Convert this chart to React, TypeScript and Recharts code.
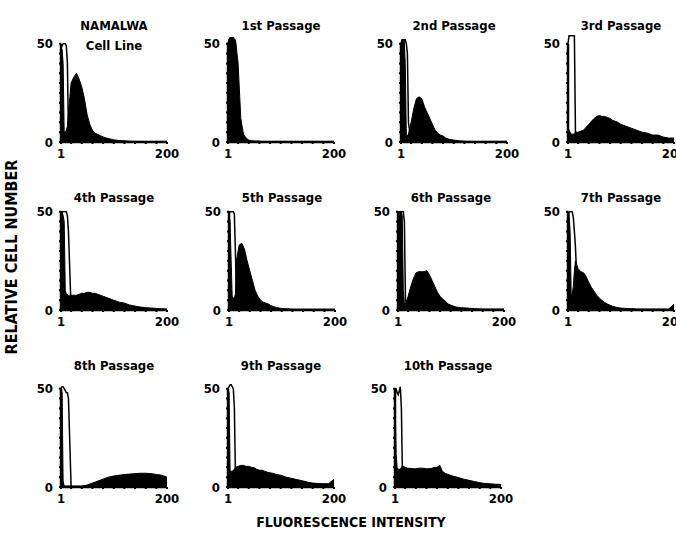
import { Area, ComposedChart, Line, ReferenceLine, XAxis, YAxis } from "recharts";

// fluorescence channels (x positions of the histogram bins)
const channels = [1, 3, 5, 7, 9, 11, 13, 15, 20, 25, 30, 35, 40, 45, 50, 55, 60, 65, 70, 75, 80, 85, 90, 95, 100, 110, 120, 130, 140, 150, 160, 170, 180, 190, 200];

// stained cells (filled histograms)
const namalwa = [48, 47, 40, 5, 5, 6, 8, 15, 30, 33, 35, 32, 28, 22, 14, 9, 6, 4.5, 3.8, 3.2, 2.6, 2.1, 1.8, 1.4, 1.1, 0.8, 0.6, 0.4, 0.3, 0.3, 0.3, 0.3, 0.3, 0.3, 0.3];
const passage1 = [50, 52, 53, 53, 53, 53, 52, 52, 40, 12, 4, 2, 1, 0.6, 0.5, 0.5, 0.4, 0.3, 0.3, 0.3, 0.3, 0.3, 0.3, 0.3, 0.3, 0.3, 0.3, 0.3, 0.3, 0.3, 0.3, 0.3, 0.3, 0.3, 0.3];
const passage2 = [50, 52, 52, 52, 40, 4, 3, 4, 10, 17, 22, 23, 22, 18, 15, 12, 9, 6, 4.5, 3.5, 3, 2, 1.5, 1.2, 1, 0.6, 0.4, 0.3, 0.3, 0.3, 0.3, 0.3, 0.3, 0.3, 0.3];
const passage3 = [7, 6, 5, 4, 4, 4, 4, 5, 5, 5.5, 6, 7.5, 9, 10.5, 12, 13, 13.5, 13, 13, 12.5, 12, 11, 10.5, 10, 9, 8, 7, 6, 5, 4.5, 3.5, 3.5, 2.5, 2, 2];
const passage4 = [50, 50, 48, 45, 10, 8, 8, 7, 7.5, 7.5, 7.5, 8, 8.5, 8.5, 9, 9, 8.5, 8.5, 8, 7.5, 7, 6.5, 6, 5.5, 5, 4, 3.5, 2.5, 2, 1.5, 1.2, 1, 0.8, 0.6, 0.5];
const passage5 = [48, 45, 25, 7, 6, 6, 8, 25, 33, 34, 31, 25, 20, 15, 10, 7, 5, 4, 3.5, 3, 2.2, 1.7, 1.3, 1, 0.8, 0.6, 0.4, 0.4, 0.4, 0.4, 0.4, 0.4, 0.4, 0.4, 0.4];
const passage6 = [50, 50, 50, 50, 48, 10, 3, 3, 7, 12, 16, 19, 19.5, 19.5, 19.5, 20, 18, 15, 12, 9, 7, 5.5, 4.5, 3, 2.5, 1.5, 1.2, 1, 0.8, 0.6, 0.5, 0.5, 0.5, 0.5, 0.5];
const passage7 = [50, 49, 40, 8, 8, 12, 20, 25, 21, 19.5, 19, 17, 14, 11.5, 9.5, 7.5, 6, 4.8, 3.8, 3, 2.4, 1.9, 1.5, 1.2, 1, 0.8, 0.7, 0.5, 0.5, 0.5, 0.5, 0.5, 0.5, 0.5, 3];
const passage8 = [50, 48, 3, 0.5, 0.5, 0.5, 0.5, 0.5, 0.5, 0.5, 0.5, 0.5, 0.5, 0.7, 1, 1.5, 2, 2.5, 3, 3.5, 4, 4.5, 5, 5.3, 5.6, 6, 6.3, 6.6, 6.8, 7, 7, 6.8, 6.4, 6, 5];
const passage9 = [50, 48, 8, 8, 8, 8.5, 9, 10, 10.5, 11, 11, 10.5, 10.5, 10, 9.8, 9, 8.5, 8.5, 8, 7.5, 7.2, 7, 6.5, 6.2, 6, 5, 4.4, 3.8, 3.2, 2.5, 2, 1.8, 1.7, 1.7, 4];
const passage10 = [48, 17, 10, 9, 9, 9, 10, 11, 10, 9.5, 9.5, 9.3, 9.3, 9.5, 9.6, 9.5, 9.3, 9.3, 9.5, 10, 10, 11, 8, 7, 6.5, 5.5, 4.8, 4, 3.4, 2.8, 2.2, 1.8, 1.6, 1.4, 1.3];

// unstained control peaks (open outlines), channels 1..20; zero afterwards
const ctlNamalwa = [48, 49, 50, 50, 50, 49, 40, 5, 0];
const ctl1 = [50, 52, 53, 53, 53, 53, 52, 50, 0];
const ctl2 = [50, 52, 52, 52, 52, 50, 45, 10, 0];
const ctl3 = [50, 54, 54, 54, 54, 54, 54, 5, 0];
const ctl4 = [50, 50, 50, 50, 50, 50, 48, 40, 0];
const ctl5 = [50, 50, 50, 50, 50, 49, 30, 8, 0];
const ctl6 = [50, 50, 50, 50, 50, 50, 45, 5, 0];
const ctl7 = [48, 50, 50, 50, 50, 47, 40, 32, 0];
const ctl8 = [50, 51, 51, 50, 49, 48, 48, 45, 0];
const ctl9 = [50, 51, 52, 52, 51, 50, 40, 5, 0];
const ctl10 = [50, 50, 48, 47, 49, 51, 40, 5, 0];

const titles = [
  ["NAMALWA", "Cell Line"],
  ["1st Passage"],
  ["2nd Passage"],
  ["3rd Passage"],
  ["4th Passage"],
  ["5th Passage"],
  ["6th Passage"],
  ["7th Passage"],
  ["8th Passage"],
  ["9th Passage"],
  ["10th Passage"],
];
const cellSeries = [namalwa, passage1, passage2, passage3, passage4, passage5, passage6, passage7, passage8, passage9, passage10];
const controlSeries = [ctlNamalwa, ctl1, ctl2, ctl3, ctl4, ctl5, ctl6, ctl7, ctl8, ctl9, ctl10];

const xTicks = [1, 20, 40, 60, 80, 100, 120, 140, 160, 180, 200];
const yTicks = [0, 5, 10, 15, 20, 25, 30, 35, 40, 45, 50];

// page position of each panel's origin and title centre
const layout = [
  { x: 61, y: 142, ty: 25 },
  { x: 228, y: 142, ty: 25 },
  { x: 401, y: 142, ty: 25 },
  { x: 568, y: 142, ty: 25 },
  { x: 61, y: 310, ty: 197 },
  { x: 229, y: 310, ty: 197 },
  { x: 398, y: 310, ty: 197 },
  { x: 568, y: 310, ty: 197 },
  { x: 61, y: 487, ty: 365 },
  { x: 228, y: 487, ty: 365 },
  { x: 395, y: 487, ty: 365 },
];

const FONT = "'DejaVu Sans Condensed', 'Liberation Sans Narrow', 'DejaVu Sans', sans-serif";
const PLOT_W = 106;
const PLOT_H = 114; // 0..58
const LEFT = 40;
const TOP = 4;
const RIGHT = 20;
const BOTTOM = 26;

const tickStyle = { fill: "#000", fontSize: 13, fontWeight: 700, fontFamily: FONT };

function Histogram({ index }: { index: number }) {
  const cells = cellSeries[index];
  const control = controlSeries[index];
  const pos = layout[index];
  const title = titles[index];
  const data = channels.map((ch, i) => ({
    ch,
    cells: cells[i],
    control: control[i] ?? 0,
  }));

  return (
    <>
      <div
        style={{
          position: "absolute",
          left: pos.x - 20,
          width: PLOT_W + 40,
          top: pos.ty - 9,
          textAlign: "center",
          fontFamily: FONT,
          fontWeight: 700,
          fontSize: 13,
          lineHeight: "20px",
          whiteSpace: "nowrap",
        }}
      >
        {title.map((t) => (
          <div key={t}>{t}</div>
        ))}
      </div>
      <div style={{ position: "absolute", left: pos.x - LEFT, top: pos.y - PLOT_H - TOP }}>
        <ComposedChart
          width={LEFT + PLOT_W + RIGHT}
          height={TOP + PLOT_H + BOTTOM}
          data={data}
          margin={{ top: TOP, right: RIGHT, bottom: 0, left: 0 }}
        >
          <XAxis
            dataKey="ch"
            type="number"
            domain={[1, 200]}
            ticks={xTicks}
            interval={0}
            height={BOTTOM}
            tickFormatter={(v: number) => (v === 1 || v === 200 ? String(v) : "")}
            tick={tickStyle}
            tickSize={2}
            tickMargin={5}
            axisLine={{ stroke: "#000", strokeWidth: 2.5 }}
            tickLine={{ stroke: "#000", strokeWidth: 2 }}
          />
          <YAxis
            type="number"
            domain={[0, 58]}
            ticks={yTicks}
            interval={0}
            width={LEFT}
            tickFormatter={(v: number) => (v === 0 || v === 50 ? String(v) : "")}
            tick={tickStyle}
            tickSize={2}
            tickMargin={6}
            axisLine={false}
            tickLine={{ stroke: "#000", strokeWidth: 2 }}
          />
          <ReferenceLine
            segment={[
              { x: 1, y: 0 },
              { x: 1, y: 50 },
            ]}
            stroke="#000"
            strokeWidth={2.5}
          />
          <Area
            dataKey="cells"
            type="linear"
            stroke="#000"
            strokeWidth={1}
            fill="#000"
            fillOpacity={1}
            isAnimationActive={false}
          />
          <Line
            dataKey="control"
            type="linear"
            stroke="#000"
            strokeWidth={1.5}
            dot={false}
            isAnimationActive={false}
          />
        </ComposedChart>
      </div>
    </>
  );
}

export default function App() {
  return (
    <div
      style={{
        position: "absolute",
        left: 0,
        top: 0,
        width: 676,
        height: 535,
        background: "#fff",
        overflow: "hidden",
        fontFamily: FONT,
      }}
    >
      {titles.map((_, i) => (
        <Histogram key={i} index={i} />
      ))}
      <div
        style={{
          position: "absolute",
          left: 11,
          top: 257,
          transform: "translate(-50%, -50%) rotate(-90deg)",
          fontWeight: 700,
          fontSize: 16,
          whiteSpace: "nowrap",
        }}
      >
        RELATIVE CELL NUMBER
      </div>
      <div
        style={{
          position: "absolute",
          left: 351,
          top: 522,
          transform: "translate(-50%, -50%)",
          fontWeight: 700,
          fontSize: 14,
          whiteSpace: "nowrap",
        }}
      >
        FLUORESCENCE INTENSITY
      </div>
    </div>
  );
}
